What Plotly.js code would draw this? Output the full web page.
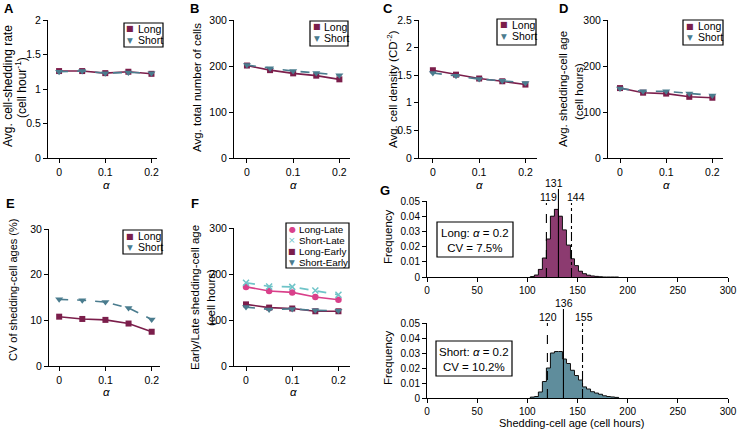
<!DOCTYPE html>
<html><head><meta charset="utf-8">
<script src="https://cdn.plot.ly/plotly-3.0.1.min.js"></script>
<style>html,body{margin:0;padding:0;background:#fff}#g{width:740px;height:430px}</style>
</head><body><div id="g"></div>
<script>
// ---- data ----
const alpha = [0, 0.05, 0.1, 0.15, 0.2];
const shedLong  = [1.26, 1.26, 1.23, 1.25, 1.22];
const shedShort = [1.25, 1.26, 1.23, 1.24, 1.23];
const cellsLong  = [201, 191, 184, 179, 171];
const cellsShort = [202, 195, 189, 185, 180];
const densLong  = [1.59, 1.51, 1.44, 1.39, 1.33];
const densShort = [1.54, 1.49, 1.43, 1.40, 1.36];
const ageLong  = [152, 142, 140, 133, 131];
const ageShort = [151, 145, 145, 140, 136];
const cvLong  = [10.8, 10.3, 10.1, 9.3, 7.5];
const cvShort = [14.6, 14.4, 14.0, 12.7, 10.2];
const lateLong   = [172, 163, 160, 150, 144];
const lateShort  = [181, 173, 172, 164, 155];
const earlyLong  = [134, 127, 125, 119, 119];
const earlyShort = [128, 123, 124, 121, 120];
const alphaTicks = [0, 0.1, 0.2];
const alphaTickText = ['0', '0.1', '0.2'];
// histograms (alpha = 0.2), bin left edges, bin width 4
const binEdges = [103,107,111,115,119,123,127,131,135,139,143,147,151,155,159,163,167,171,175,179,183,187];
const histLong  = [0.0003,0.0013,0.005,0.0125,0.025,0.040,0.0445,0.040,0.031,0.021,0.012,0.0075,0.0038,0.0022,0.0012,0.0007,0.0004,0.0002,0,0,0,0];
const histShort = [0.0006,0.001,0.004,0.011,0.020,0.030,0.031,0.031,0.026,0.023,0.0185,0.015,0.012,0.0074,0.006,0.0042,0.0033,0.0025,0.0015,0.001,0.0007,0.0004];
const longStats  = [119, 131, 144];  // 10th pct, mean, 90th pct
const shortStats = [120, 136, 155];
const longCV = '7.5%', shortCV = '10.2%';

// ---- styling ----
const F = 'Liberation Sans, Arial, Helvetica, sans-serif';
const W = 740, H = 430;
const px = x => x / W, py = y => 1 - y / H;
const cLong = '#7B1E4B', cShort = '#4A7C8E', cLateLong = '#D9408A', cLateShort = '#6FC4C8';
const fLong = '#8C3B70', fShort = '#5F8D9C';
const BW = 4;

function base(fs) {
  return {showline:true, linecolor:'#000', linewidth:1, ticks:'outside', ticklen:4, tickwidth:1, tickcolor:'#000',
    showgrid:false, zeroline:false, tickfont:{family:F, size:fs, color:'#000'}, fixedrange:true};
}
function ax(x0, x1, range, extra, fs) {
  return Object.assign(base(fs||10.5), {domain:[px(x0), px(x1)], range}, extra||{});
}
function ay(yTop, yBot, range, extra, fs) {
  return Object.assign(base(fs||10.5), {domain:[py(yBot), py(yTop)], range}, extra||{});
}
function lt(y, n, color, dash, symbol, size) {
  return {type:'scatter', mode:'lines+markers', x:alpha, y, xaxis:'x'+n, yaxis:'y'+n,
    line:{color, width:1.6, dash}, marker:{symbol, size, color, line:{width: symbol==='x-thin'?1.5:0, color}},
    showlegend:false, cliponaxis:false};
}
const xa = {tickvals:alphaTicks, ticktext:alphaTickText};
const hx = {tickvals:[0,50,100,150,200,250,300]};
const hy = {tickvals:[0,0.01,0.02,0.03,0.04,0.05], ticktext:['0','0.01','0.02','0.03','0.04','0.05']};
const layout = {width:W, height:H, margin:{l:0,r:0,t:0,b:0}, paper_bgcolor:'#fff', plot_bgcolor:'rgba(0,0,0,0)',
  showlegend:false, font:{family:F, size:10, color:'#000'},
  xaxis:  ax(48, 157, [-0.024, 0.212], xa),   yaxis:  ay(20, 158, [0, 2], {tickvals:[0,0.5,1,1.5,2]}),
  xaxis2: ax(234, 350, [-0.028, 0.223], xa),  yaxis2: ay(20, 158, [0, 300], {tickvals:[0,100,200,300]}),
  xaxis3: ax(419, 537, [-0.030, 0.225], xa),  yaxis3: ay(20, 158, [0, 2.5], {tickvals:[0,0.5,1,1.5,2,2.5]}),
  xaxis4: ax(608, 723, [-0.026, 0.223], xa),  yaxis4: ay(20, 158, [0, 300], {tickvals:[0,100,200,300]}),
  xaxis5: ax(49, 160, [-0.022, 0.218], xa),   yaxis5: ay(229, 366, [0, 30], {tickvals:[0,10,20,30]}),
  xaxis6: ax(234, 350, [-0.026, 0.225], xa),  yaxis6: ay(228, 366, [0, 300], {tickvals:[0,100,200,300]}),
  xaxis7: ax(427, 728, [0, 300], hx, 10),     yaxis7: ay(201, 277, [0, 0.05], hy, 10),
  xaxis8: ax(427, 728, [0, 300], hx, 10),     yaxis8: ay(323, 398, [0, 0.05], hy, 10),
  annotations:[], shapes:[], bargap:0
};
for (let i = 1; i <= 8; i++) {
  const s = i===1?'':i;
  layout['xaxis'+s].anchor = 'y'+s;
  layout['yaxis'+s].anchor = 'x'+s;
}
const traces = [];
function addPair(n, L, S) {
  const id = n===1?'':n;
  traces.push(lt(L, id, cLong, 'solid', 'square', 6));
  traces.push(lt(S, id, cShort, 'dash', 'triangle-down', 7));
}
addPair(1, shedLong, shedShort);
addPair(2, cellsLong, cellsShort);
addPair(3, densLong, densShort);
addPair(4, ageLong, ageShort);
addPair(5, cvLong, cvShort);
traces.push(lt(lateLong, 6, cLateLong, 'solid', 'circle', 6.5));
traces.push(lt(lateShort, 6, cLateShort, 'dash', 'x-thin', 6));
traces.push(lt(earlyLong, 6, cLong, 'solid', 'square', 6));
traces.push(lt(earlyShort, 6, cShort, 'dash', 'triangle-down', 7));

// histograms
function hist(freq, n, fill) {
  traces.push({type:'bar', x:binEdges, y:freq, offset:0, width:BW, xaxis:'x'+n, yaxis:'y'+n,
    marker:{color:fill, line:{width:0}}, showlegend:false});
  const sx = [binEdges[0]].concat(binEdges, [binEdges[binEdges.length-1] + BW]);
  const sy = [0].concat(freq, [0]);
  traces.push({type:'scatter', mode:'lines', x:sx, y:sy, xaxis:'x'+n, yaxis:'y'+n,
    line:{shape:'hv', color:'#111', width:1}, showlegend:false});
}
hist(histLong, 7, fLong);
hist(histShort, 8, fShort);

const A = layout.annotations, S = layout.shapes;
function txt(x, y, text, o, fs) {
  A.push(Object.assign({xref:'paper', yref:'paper', x:px(x), y:py(y), text, showarrow:false,
    xanchor:'center', yanchor:'middle', font:{family:F, size:fs||10.5, color:'#000'}}, o||{}));
}
// panel letters
[['A',9,9],['B',195,9],['C',388,9],['D',563,9],['E',10,203],['F',195,203],['G',385,190]].forEach(p =>
  txt(p[1], p[2], '<b>'+p[0]+'</b>', {}, 13));
// y titles
const R = {textangle:-90};
txt(8, 86, 'Avg. cell-shedding rate', R, 12);
txt(21, 88, '(cell hour<sup>-1</sup>)', R, 12);
txt(197, 88, 'Avg. total number of cells', R, 11.5);
txt(392, 89, 'Avg. cell density (CD<sup>-2</sup>)', R, 11.5);
txt(563, 89, 'Avg. shedding-cell age', R, 11.5);
txt(579, 92, '(cell hours)', R, 11.5);
txt(13, 290, 'CV of shedding-cell ages (%)', R, 11);
txt(195, 297, 'Early/Late shedding-cell age', R, 11.5);
txt(211, 297, '(cell hours)', R, 11.5);
txt(388, 237, 'Frequency', R, 11.5);
txt(388, 358, 'Frequency', R, 11.5);
// alpha titles
[[106,185],[293,185],[479,185],[666,185],[106,392],[293,392]].forEach(p => txt(p[0], p[1], '<i>α</i>', {}, 11.5));
txt(572, 423, 'Shedding-cell age (cell hours)', {}, 11);

// legends
function legend(x0, y0, x1, y1, items, mx, tx, fs) {
  S.push({type:'rect', xref:'paper', yref:'paper', x0:px(x0), x1:px(x1), y0:py(y1), y1:py(y0), line:{color:'#000', width:1.2}, fillcolor:'#fff'});
  items.forEach((it, i) => {
    const y = y0 + 6 + i * 11.2;
    txt(mx, y, '<span style="color:'+it[1]+'">'+it[0]+'</span>', {font:{family:'DejaVu Sans', size:it[3]||8, color:it[1]}});
    txt(tx, y, it[2], {xanchor:'left'}, fs||10.5);
  });
}
const LS = [['■', cLong, 'Long'], ['▼', cShort, 'Short', 7.5]];
legend(124, 23, 163, 47, LS, 130, 136);
legend(310, 21, 348, 46, LS, 317, 322);
legend(497, 19, 536, 45, LS, 504, 510);
legend(683, 20, 723, 45, LS, 690, 696);
legend(123, 230, 162, 254, LS, 130, 136);
legend(286, 223, 349, 268, [['●', cLateLong, 'Long-Late'], ['×', cLateShort, 'Short-Late', 9], ['■', cLong, 'Long-Early'], ['▼', cShort, 'Short-Early', 7.5]], 292, 297, 9.8);

// stat lines in histograms
function statLines(stats, n, yBase, tops, labY, shifts) {
  const dashes = ['dash', 'solid', 'dashdot'];
  stats.forEach((v, i) => {
    S.push({type:'line', xref:'x'+n, yref:'paper', x0:v, x1:v, y0:py(yBase), y1:py(tops[i]), line:{color:'#000', width:1.1, dash:dashes[i]}});
    A.push({xref:'x'+n, yref:'paper', x:v, y:py(labY[i]), text:String(v), showarrow:false, xanchor:'center', yanchor:'middle',
      xshift:shifts[i], font:{family:F, size:10.5, color:'#000'}});
  });
}
statLines(longStats, 7, 277, [203, 189, 203], [197, 183, 197], [2, -4, 5]);
statLines(shortStats, 8, 398, [323, 309, 323], [317, 303, 317], [1, 1, 1]);
// text boxes
S.push({type:'rect', xref:'paper', yref:'paper', x0:px(437), x1:px(513), y0:py(257), y1:py(222), line:{color:'#000', width:1.2}});
S.push({type:'rect', xref:'paper', yref:'paper', x0:px(436), x1:px(512), y0:py(376), y1:py(341), line:{color:'#000', width:1.2}});
txt(475, 240, 'Long: <i>α</i> = 0.2<br>CV = '+longCV, {}, 11.5);
txt(474, 359, 'Short: <i>α</i> = 0.2<br>CV = '+shortCV, {}, 11.5);

Plotly.newPlot('g', traces, layout, {staticPlot:true, displayModeBar:false});
</script></body></html>
